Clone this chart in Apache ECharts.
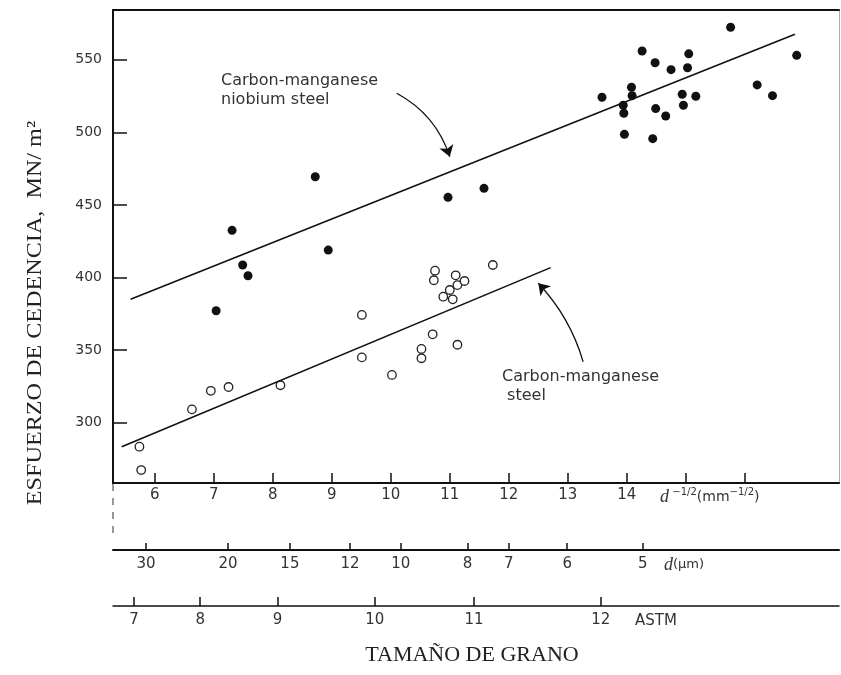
<!DOCTYPE html>
<html><head><meta charset="utf-8">
<script src="https://cdn.jsdelivr.net/npm/echarts@6/dist/echarts.min.js"></script>
<style>html,body{margin:0;padding:0;background:#fff}#c{width:841px;height:675px}</style>
</head><body><div id="c"></div>
<script>
// ---- data ----
const nbX = [7.04, 7.49, 7.58, 8.94, 7.31, 8.72, 10.97, 11.58, 13.58, 13.94, 13.95, 13.96, 14.08, 14.09, 14.26, 14.48, 14.44, 14.49, 14.66, 14.75, 14.94, 14.96, 15.03, 15.05, 15.17, 15.76, 16.21, 16.47, 16.88];
const nbY = [377.1, 408.6, 401.2, 418.9, 432.5, 469.4, 455.2, 461.4, 524.1, 518.6, 513.1, 498.6, 531, 525.2, 556, 547.9, 495.6, 516.3, 511.2, 543.1, 526.2, 518.6, 544.4, 554, 524.8, 572.3, 532.6, 525.2, 553];
const cmnX = [5.74, 5.77, 6.63, 6.95, 7.25, 8.13, 9.51, 9.51, 10.02, 10.52, 10.52, 10.71, 10.75, 10.73, 10.89, 11.0, 11.05, 11.10, 11.13, 11.25, 11.13, 11.73];
const cmnY = [283.5, 267.4, 309.2, 322, 324.6, 325.8, 374.2, 345, 332.9, 350.8, 344.4, 360.9, 404.7, 398.1, 386.8, 391.4, 385, 401.5, 394.8, 397.6, 353.7, 408.6];
const nbLineX = [5.59, 16.85];
const nbLineY = [385, 567.5];
const cmnLineX = [5.44, 12.71];
const cmnLineY = [283.5, 406.8];
const yTicks = [300, 350, 400, 450, 500, 550];
const mainTicks = [6, 7, 8, 9, 10, 11, 12, 13, 14, 15, 16];
const mainLabels = [6, 7, 8, 9, 10, 11, 12, 13, 14];
const dMicronLabels = ['30', '20', '15', '12', '10', '8', '7', '6', '5'];
const dMicronPos = [5.85, 7.24, 8.29, 9.31, 10.17, 11.30, 12.00, 12.99, 14.27];
const astmLabels = ['7', '8', '9', '10', '11', '12'];
const astmPos = [5.65, 6.77, 8.08, 9.73, 11.41, 13.56];
const arrowNb = [[10.10, 526.9], [11.0, 483.2]];
const arrowCmn = [[13.26, 342.0], [12.5, 396.0]];
const X_MIN = 5.292, X_MAX = 17.597, Y_MIN = 258.5, Y_MAX = 584.2;

const zip = (xs, ys) => xs.map((x, i) => [x, ys[i]]);
const chart = echarts.init(document.getElementById('c'), null, {renderer: 'canvas'});
const lblFont = 'DejaVu Sans';
const baseX = {
  type: 'value', min: X_MIN, max: X_MAX, position: 'bottom', splitLine: {show: false}
};
function mkLabelAxis(offset, pos, labels, tickLen, margin, lw) {
  return Object.assign({}, baseX, {
    offset: offset,
    axisLine: {show: true, onZero: false, lineStyle: {color: '#111', width: lw}},
    axisTick: {show: true, inside: true, length: tickLen, customValues: pos, lineStyle: {color: '#111', width: 1.5}},
    axisLabel: {show: true, customValues: pos, margin: margin, color: '#333', fontFamily: lblFont, fontSize: 15,
      formatter: v => { const i = pos.findIndex(p => Math.abs(p - v) < 1e-6); return i >= 0 ? labels[i] : ''; }}
  });
}
const option = {
  animation: false,
  backgroundColor: '#fff',
  grid: {left: 113, top: 10, right: 2, bottom: 192, containLabel: false, outerBoundsMode: 'none'},
  xAxis: [
    Object.assign({}, baseX, {
      axisLine: {show: true, onZero: false, lineStyle: {color: '#111', width: 2}},
      axisTick: {show: true, inside: true, length: 10, customValues: mainTicks, lineStyle: {color: '#111', width: 1.5}},
      axisLabel: {show: true, customValues: mainLabels, margin: 5, color: '#333', fontFamily: lblFont, fontSize: 15}
    }),
    mkLabelAxis(67, dMicronPos, dMicronLabels, 7, 7, 2),
    mkLabelAxis(123, astmPos, astmLabels, 9, 7, 1.5),
    Object.assign({}, baseX, {position: 'top',
      axisLine: {show: true, onZero: false, lineStyle: {color: '#111', width: 2}},
      axisTick: {show: false}, axisLabel: {show: false}})
  ],
  yAxis: [
    {type: 'value', min: Y_MIN, max: Y_MAX, position: 'left', splitLine: {show: false},
      axisLine: {show: true, onZero: false, lineStyle: {color: '#111', width: 2}},
      axisTick: {show: true, inside: true, length: 14, customValues: yTicks, lineStyle: {color: '#111', width: 1.5}},
      axisLabel: {show: true, customValues: yTicks, margin: 11, color: '#333', fontFamily: lblFont, fontSize: 14}},
    {type: 'value', min: Y_MIN, max: Y_MAX, position: 'right', splitLine: {show: false},
      axisLine: {show: true, onZero: false, lineStyle: {color: '#aaa', width: 1}},
      axisTick: {show: false}, axisLabel: {show: false}}
  ],
  series: [
    {type: 'line', name: 'nbFit', data: zip(nbLineX, nbLineY), showSymbol: false, symbol: 'none',
      lineStyle: {color: '#111', width: 1.6}, silent: true},
    {type: 'line', name: 'cmnFit', data: zip(cmnLineX, cmnLineY), showSymbol: false, symbol: 'none',
      lineStyle: {color: '#111', width: 1.6}, silent: true},
    {type: 'scatter', name: 'Carbon-manganese niobium steel', data: zip(nbX, nbY), symbol: 'circle', symbolSize: 9,
      itemStyle: {color: '#111', opacity: 1}},
    {type: 'scatter', name: 'Carbon-manganese steel', data: zip(cmnX, cmnY), symbol: 'circle', symbolSize: 8.5,
      itemStyle: {color: '#fff', borderColor: '#222', borderWidth: 1.3, opacity: 1}},
    {type: 'lines', coordinateSystem: 'cartesian2d', symbol: ['none', 'arrow'], symbolSize: 11,
      lineStyle: {color: '#111', width: 1.3, curveness: 0.2, opacity: 1}, data: [{coords: arrowNb}]},
    {type: 'lines', coordinateSystem: 'cartesian2d', symbol: ['none', 'arrow'], symbolSize: 11,
      lineStyle: {color: '#111', width: 1.3, curveness: -0.12, opacity: 1}, data: [{coords: arrowCmn}]}
  ],
  graphic: [
    {type: 'line', shape: {x1: 113, y1: 484, x2: 113, y2: 538}, style: {stroke: '#555', lineWidth: 1.2, lineDash: [7, 7]}},
    {type: 'text', x: 221, y: 71, style: {text: 'Carbon-manganese\nniobium steel', fill: '#333',
      font: '16px "DejaVu Sans"', lineHeight: 19}},
    {type: 'text', x: 502, y: 367, style: {text: 'Carbon-manganese\n steel', fill: '#333',
      font: '16px "DejaVu Sans"', lineHeight: 19}},
    {type: 'text', x: 660, y: 497, style: {
      text: '{i|d} {s|−1/2}{n|(mm}{s|−1/2}{n|)}', verticalAlign: 'middle', fill: '#333',
      rich: {i: {fontFamily: 'Liberation Serif', fontStyle: 'italic', fontSize: 18, lineHeight: 20, fill: '#333'},
             n: {fontFamily: lblFont, fontSize: 14, lineHeight: 20, fill: '#333'},
             s: {fontFamily: lblFont, fontSize: 10, lineHeight: 20, verticalAlign: 'top', fill: '#333'}}}},
    {type: 'text', x: 664, y: 565, style: {
      text: '{i|d}{n|(µm)}', verticalAlign: 'middle', fill: '#333',
      rich: {i: {fontFamily: 'Liberation Serif', fontStyle: 'italic', fontSize: 18, fill: '#333'},
             n: {fontFamily: lblFont, fontSize: 13, fill: '#333'}}}},
    {type: 'text', x: 635, y: 621, style: {text: 'ASTM', fill: '#333', font: '15px "DejaVu Sans"', verticalAlign: 'middle'}},
    {type: 'text', x: 472, y: 655, style: {text: 'TAMAÑO DE GRANO', fill: '#222', font: '22px "Liberation Serif"',
      align: 'center', verticalAlign: 'middle'}},
    {type: 'text', x: 35, y: 313, rotation: Math.PI / 2, scaleX: 1.15,
      style: {text: 'ESFUERZO DE CEDENCIA,  MN/ m²', fill: '#222', font: '21px "Liberation Serif"',
        align: 'center', verticalAlign: 'middle'}}
  ]
};
chart.setOption(option);
</script></body></html>
